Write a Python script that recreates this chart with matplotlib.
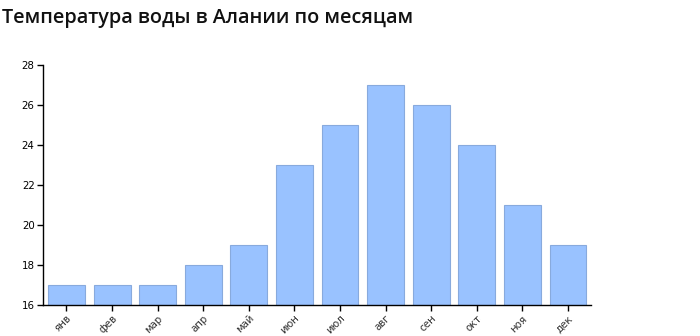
import matplotlib
matplotlib.use("Agg")
import matplotlib.pyplot as plt

months = ["янв", "фев", "мар", "апр", "май", "июн", "июл", "авг", "сен", "окт", "ноя", "дек"]
temps = [17, 17, 17, 18, 19, 23, 25, 27, 26, 24, 21, 19]
yticks = [16, 18, 20, 22, 24, 26, 28]

fig = plt.figure(figsize=(7, 3.36), dpi=100)
ax = fig.add_axes([0.0614, 0.0923, 0.7826, 0.7143])

x = range(len(months))
ax.bar(x, temps, width=0.81, bottom=0, color="#99c2ff", edgecolor="#88aadd", linewidth=0.8)
ax.set_ylim(16, 28)
ax.set_xlim(-0.515, 11.5)
ax.set_yticks(yticks)
ax.set_xticks(list(x))
ax.set_xticklabels(months, rotation=45, ha="right", rotation_mode="anchor")
ax.tick_params(labelsize=7.4, length=4, width=1, colors="black", pad=2)
ax.tick_params(axis="x", labelcolor="#333333")

for s in ["top", "right"]:
    ax.spines[s].set_visible(False)
for s in ["left", "bottom"]:
    ax.spines[s].set_linewidth(1)

fig.text(0.003, 0.945, "Температура воды в Алании по месяцам", fontsize=14.3,
         family="Open Sans", weight="semibold", ha="left", va="center", color="#111111")

fig.savefig("out.png", dpi=100)
